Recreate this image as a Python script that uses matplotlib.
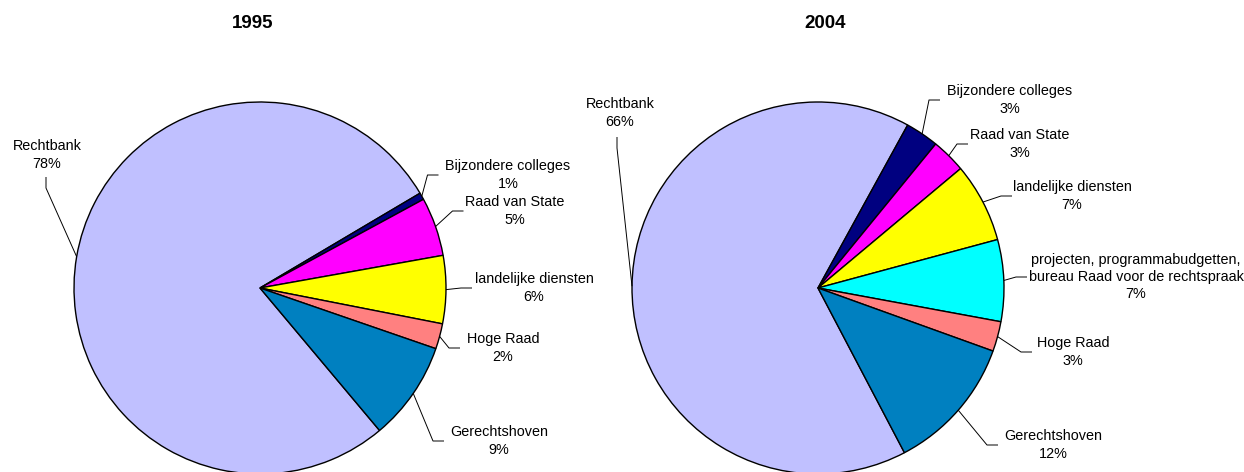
import matplotlib.pyplot as plt
import numpy as np

plt.rcParams['font.family'] = ['Liberation Sans', 'DejaVu Sans']

W, H = 1244, 472

# data (shares in %)
names_1995 = ['Rechtbank', 'Bijzondere colleges', 'Raad van State',
              'landelijke diensten', 'Hoge Raad', 'Gerechtshoven']
shares_1995 = [77.6, 0.6, 5.1, 5.9, 2.2, 8.6]

names_2004 = ['Rechtbank', 'Bijzondere colleges', 'Raad van State',
              'landelijke diensten',
              'projecten, programmabudgetten,\nbureau Raad voor de rechtspraak',
              'Hoge Raad', 'Gerechtshoven']
shares_2004 = [65.7, 2.9, 3.0, 6.9, 7.1, 2.6, 11.8]

colors = {'Rechtbank': '#C0C0FF', 'Bijzondere colleges': '#000080',
          'Raad van State': '#FF00FF', 'landelijke diensten': '#FFFF00',
          'Hoge Raad': '#FF8080', 'Gerechtshoven': '#0080C0'}
proj_color = '#00FFFF'

# layout in pixels from the top-left corner
R = 186
centers = [(260, 288), (818, 288)]
starts = [-50, -62.3]
titles = [('1995', 253), ('2004', 825)]
# text centre (x, y) and x where leader line meets the label
label_pos_1995 = [(47, 155), (508, 175), (515, 211), (534, 288), (503, 348), (499, 441)]
leader_end_1995 = [(46, 177), 438.5, 463.5, 472, 460, 444]
label_pos_2004 = [(620, 113), (1010, 100), (1020, 144), (1072, 196),
                  (1136, 277), (1073, 352), (1053, 445)]
leader_end_2004 = [(617, 137), 940, 968, 1012, 1027, 1032, 998]


def yy(py):
    return H - py


fig = plt.figure(figsize=(W / 100, H / 100), dpi=100)
ax = fig.add_axes([0, 0, 1, 1])

sets = [(names_1995, shares_1995, label_pos_1995, leader_end_1995),
        (names_2004, shares_2004, label_pos_2004, leader_end_2004)]

for k, (names, shares, lpos, lend) in enumerate(sets):
    cx, cy = centers[k]
    cols = [colors.get(n, proj_color) for n in names]
    wedges, _ = ax.pie(shares, colors=cols, startangle=starts[k], counterclock=False,
                       center=(cx, yy(cy)), radius=R,
                       wedgeprops=dict(edgecolor='black', linewidth=1.0))
    for i, w in enumerate(wedges):
        mid = np.deg2rad((w.theta1 + w.theta2) / 2)
        ex = cx + R * np.cos(mid)
        ey = yy(cy) + R * np.sin(mid)
        tx, ty = lpos[i]
        ax.text(tx, yy(ty), f'{names[i]}\n{shares[i]:.0f}%', ha='center', va='center',
                fontsize=10.4, linespacing=1.28, color='#000000')
        if i == 0:
            lx, ly = lend[i]
            xs = [lx, lx, ex]
            ys = [yy(ly), yy(ly + 11), ey]
        else:
            end = lend[i]
            xs = [ex, end - 11, end]
            ys = [ey, yy(ty), yy(ty)]
        ax.plot(xs, ys, color='black', linewidth=0.7, solid_capstyle='butt')

for t, x in titles:
    ax.text(x, yy(23), t, ha='center', va='center', fontsize=13.5, fontweight='bold')

ax.set_xlim(0, W)
ax.set_ylim(0, H)
ax.set_aspect('equal')
ax.axis('off')

fig.savefig('out.png', dpi=100, facecolor='white')
